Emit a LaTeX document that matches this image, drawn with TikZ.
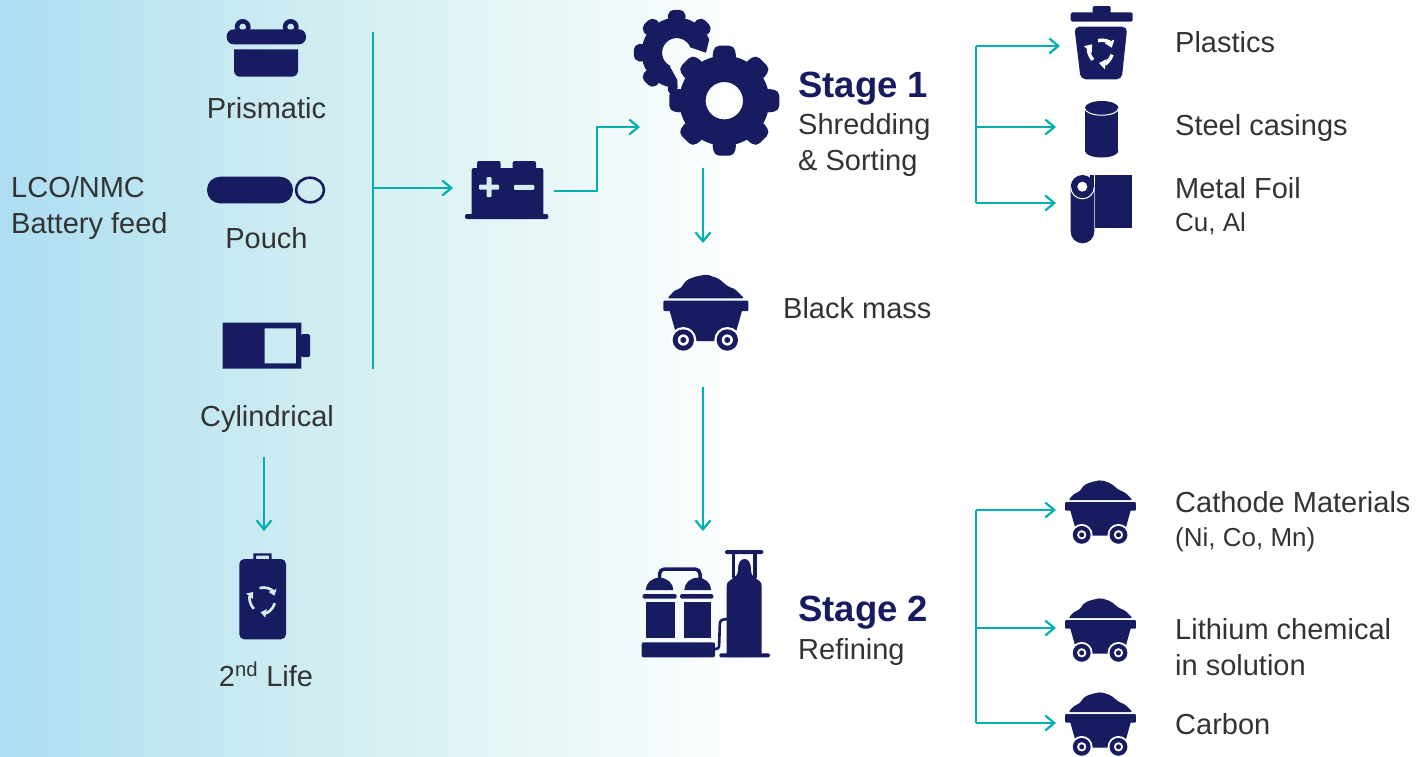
\documentclass[tikz,border=0pt]{standalone}
\usepackage{fontspec}
\setmainfont{Liberation Sans}
\usetikzlibrary{arrows.meta}

\definecolor{navy}{HTML}{171C61}
\definecolor{teal}{HTML}{00AFAE}
\definecolor{ink}{HTML}{333333}
\definecolor{skyL}{HTML}{ADDEF2}
\definecolor{skyM}{HTML}{D7F0F2}
\definecolor{paleL}{HTML}{D5EEF3}

\tikzset{
    flow/.style={draw=teal, line width=2.2pt},
    flowto/.style={flow, -{Straight Barb[length=9pt, width=15pt, line width=2.2pt]}},
    lab/.style={anchor=base west, inner sep=0pt, text=ink, font=\fontsize{29}{33}\selectfont},
    labc/.style={lab, anchor=base},
    sublab/.style={lab, font=\fontsize{26}{30}\selectfont},
    stagelab/.style={lab, text=navy, font=\fontsize{36.5}{40}\selectfont\bfseries},
    cart/.pic={
        \fill[navy, rounded corners=2pt] (-38.5,-2.3) -- (-30.8,-10.7) -- (-25.8,-11.7) -- (-19.2,-20.7) -- (-10.8,-24) -- (0.8,-26.3) -- (12.5,-22.3) -- (22.5,-14) -- (29.2,-11.7) -- (38.5,-2.3) -- cycle;
        \fill[navy, rounded corners=1pt] (-42.5,0) rectangle (42.5,10.3);
        \fill[navy] (-36.5,9) -- (36.5,9) -- (30,32) -- (15,40.3) -- (-15,40.3) -- (-30,32) -- cycle;
        \foreach \wx in {-22.5,21.5} {
            \fill[white] (\wx,39.3) circle (13);
            \fill[navy, even odd rule] (\wx,39.3) circle (10.7) circle (5.7) circle (3);
        }
    },
    gear/.pic={
        \fill[navy, even odd rule] (0,0) circle (45) circle (18.7);
        \foreach \ang in {0,45,...,315} {
            \fill[navy, rotate=\ang, rounded corners=5pt] (-12.5,40) -- (-10,55) -- (10,55) -- (12.5,40) -- cycle;
        }
    },
    recycle/.pic={
        \foreach \ang in {15,135,255} {
            \draw[-{Triangle[length=2pt 1.4, width=3pt 2]}] (\ang:10) arc[start angle=\ang, end angle=\ang+85, radius=10];
        }
    }
}

\begin{document}
\begin{tikzpicture}[x=1pt, y=-1pt]
    \useasboundingbox (0,0) rectangle (1417,756);
    \shade[left color=skyL, right color=white, middle color=skyM] (0,0) rectangle (760,756);

    % prismatic cell
    \fill[navy, even odd rule] (242.7,27) circle (8) circle (3.5);
    \fill[navy, even odd rule] (290.7,27) circle (8) circle (3.5);
    \fill[navy, rounded corners=7pt] (226.7,29.3) rectangle (306,44.3);
    \fill[navy] (234,49.3) -- (298,49.3) [rounded corners=6pt] -- (298,76.7) -- (234,76.7) [sharp corners] -- cycle;

    % pouch cell
    \fill[navy, rounded corners=13pt] (207,176.7) rectangle (293,203.3);
    \path[draw=navy, line width=2.6pt] (310,190) ellipse (14 and 12.3);

    % cylindrical cell
    \fill[navy, even odd rule] (222.7,322.7) rectangle (301.3,368.7) (264.7,328.3) rectangle (296,363.3);
    \fill[navy, rounded corners=1.5pt] (301,334) rectangle (310,357);

    % battery pack
    \fill[navy, rounded corners=2pt] (471.7,168) rectangle (543.3,217);
    \fill[navy, rounded corners=2pt] (477,161) rectangle (500.7,170);
    \fill[navy, rounded corners=2pt] (512.7,161) rectangle (536,170);
    \fill[navy, rounded corners=2pt] (465,214) rectangle (548.3,219);
    \fill[paleL, rounded corners=1pt] (479,184.5) rectangle (499,189.5);
    \fill[paleL, rounded corners=1pt] (486.5,177) rectangle (491.5,197);
    \fill[paleL, rounded corners=1pt] (514,184.8) rectangle (534.3,189.8);

    % second life battery
    \fill[navy, rounded corners=5pt] (239.3,559) rectangle (286,639.3);
    \fill[navy, even odd rule] (253.3,553.3) rectangle (271.7,560) (256,555.5) rectangle (269,559);
    \pic[paleL, line width=2.6pt, scale=1.25] at (262.7,600) {recycle};

    % gears
    \begin{scope}
        \clip (676.7,52.7) -- (688.3,46.7) -- (706,52.7) -- (714,20) -- (714,0) -- (620,0) -- (620,100) -- (677.3,100) -- (677.3,80) -- (670,66.7) -- cycle;
        \pic[scale=.78] at (676.7,52.7) {gear};
    \end{scope}
    \pic at (724.3,100.7) {gear};

    % carts
    \pic at (705.8,300.7) {cart};
    \pic[scale=.835] at (1100.5,502) {cart};
    \pic[scale=.835] at (1100.5,620) {cart};
    \pic[scale=.835] at (1100.5,714) {cart};

    % plant
    \fill[navy] (645.7,602.3) rectangle (675,638.3);
    \fill[navy] (684.3,602.3) rectangle (711,638.3);
    \fill[navy, rounded corners=1.5pt] (642.7,594) rectangle (676.7,598.7);
    \fill[navy, rounded corners=1.5pt] (680,594) rectangle (713.3,598.7);
    \fill[navy] (645.7,590) arc[start angle=180, end angle=360, x radius=13.8, y radius=12.3] -- cycle;
    \fill[navy] (684.3,590) arc[start angle=180, end angle=360, x radius=13.4, y radius=12.3] -- cycle;
    \path[draw=navy, line width=3.5pt, rounded corners=5pt] (659.5,580) -- (659.5,569) -- (700,569) -- (700,580);
    \fill[navy, rounded corners=2pt] (641.7,642.3) rectangle (715,657.3);
    \fill[navy] (726.7,657) -- (726.7,586) .. controls (726.7,578) and (738,580) .. (738,570) .. controls (738,562) and (741,559) .. (744.5,559) .. controls (748,559) and (751,562) .. (751,570) .. controls (751,580) and (761.7,578) .. (761.7,586) -- (761.7,657) -- cycle;
    \fill[navy, rounded corners=1.5pt] (719.3,653.3) rectangle (770,657.3);
    \fill[navy, rounded corners=1.5pt] (725,550) rectangle (763.3,554);
    \fill[navy] (731.7,552) rectangle (735,578);
    \fill[navy] (753.3,552) rectangle (756.7,578);
    \path[draw=navy, line width=2.6pt, rounded corners=3pt] (714,649) -- (719,649) -- (720,620) -- (727,619);

    % bin
    \fill[navy, rounded corners=2pt] (1092.7,6) rectangle (1110.7,14);
    \fill[navy, rounded corners=1.5pt] (1070.7,12.3) rectangle (1132.7,21.7);
    \fill[navy, rounded corners=5pt] (1074.3,26.7) -- (1127.3,26.7) -- (1121.7,79.3) -- (1080.7,79.3) -- cycle;
    \pic[white, line width=3.4pt, scale=1.15] at (1101,51.7) {recycle};

    % steel can
    \fill[navy] (1085,107.7) rectangle (1118.3,151);
    \fill[navy] (1101.7,151) ellipse (16.7 and 6.5);
    \fill[navy] (1101.7,107.7) ellipse (16.7 and 6.7);
    \path[draw=white, line width=1pt] (1085,108.5) arc[start angle=180, end angle=0, x radius=16.7, y radius=6.7];

    % foil roll
    \fill[navy] (1090,175) rectangle (1132.3,227.7);
    \path[draw=white, line width=1pt] (1094.8,175) -- (1094.8,228);
    \fill[navy, rounded corners=11.7pt] (1070.7,175) rectangle (1094.3,243.3);
    \path[draw=white, line width=1pt] (1070.7,187) arc[start angle=180, end angle=0, radius=11.8];
    \fill[white] (1082.3,186.7) circle (5);

    % connectors
    \coordinate (busT) at (373,32);
    \coordinate (busB) at (373,369);
    \coordinate (busM) at (373,188);
    \coordinate (packIn) at (453,188);
    \coordinate (packOut) at (554,191);
    \coordinate (gearBend) at (597,127);
    \coordinate (gearIn) at (640,127);
    \coordinate (gearOut) at (703,168);
    \coordinate (massIn) at (703,243);
    \coordinate (massOut) at (703,387);
    \coordinate (plantIn) at (703,531);
    \coordinate (cylOut) at (264,457);
    \coordinate (lifeIn) at (264,531);
    \coordinate (sortT) at (976,46);
    \coordinate (sortM) at (976,127);
    \coordinate (sortB) at (976,203);
    \coordinate (binIn) at (1060,46);
    \coordinate (canIn) at (1056,127);
    \coordinate (foilIn) at (1056,203);
    \coordinate (refT) at (976,510);
    \coordinate (refM) at (976,628);
    \coordinate (refB) at (976,723);
    \coordinate (catIn) at (1056,510);
    \coordinate (liIn) at (1056,628);
    \coordinate (carbIn) at (1056,723);

    \path[flow] (busT) -- (busB);
    \path[flowto] (busM) -- (packIn);
    \path[flowto] (packOut) -| (gearBend) -- (gearIn);
    \path[flowto] (gearOut) -- (massIn);
    \path[flowto] (massOut) -- (plantIn);
    \path[flowto] (cylOut) -- (lifeIn);
    \path[flow] (sortT) -- (sortB);
    \path[flowto] (sortT) -- (binIn);
    \path[flowto] (sortM) -- (canIn);
    \path[flowto] (sortB) -- (foilIn);
    \path[flow] (refT) -- (refB);
    \path[flowto] (refT) -- (catIn);
    \path[flowto] (refM) -- (liIn);
    \path[flowto] (refB) -- (carbIn);

    % labels
    \node[lab] (feed1) at (11,197) {LCO/NMC};
    \node[lab] (feed2) at (11,233) {Battery feed};
    \node[labc] (prism) at (266.5,118) {Prismatic};
    \node[labc] (pouch) at (266.5,248) {Pouch};
    \node[labc] (cyl) at (267,426) {Cylindrical};
    \node[labc] (life) at (266,686) {2\textsuperscript{nd} Life};
    \node[stagelab] (st1) at (798,97) {Stage 1};
    \node[lab] (st1a) at (798,134) {Shredding};
    \node[lab] (st1b) at (798,170) {\& Sorting};
    \node[lab] (mass) at (783,318) {Black mass};
    \node[stagelab] (st2) at (798,621) {Stage 2};
    \node[lab] (st2a) at (798,659) {Refining};
    \node[lab] (plast) at (1175,52) {Plastics};
    \node[lab] (steel) at (1175,135) {Steel casings};
    \node[lab] (foil) at (1175,198) {Metal Foil};
    \node[sublab] (foilb) at (1175,231) {Cu, Al};
    \node[lab] (cath) at (1175,512) {Cathode Materials};
    \node[sublab] (cathb) at (1175,546) {(Ni, Co, Mn)};
    \node[lab] (lith) at (1175,639) {Lithium chemical};
    \node[lab] (lithb) at (1175,675) {in solution};
    \node[lab] (carb) at (1175,734) {Carbon};
\end{tikzpicture}
\end{document}
